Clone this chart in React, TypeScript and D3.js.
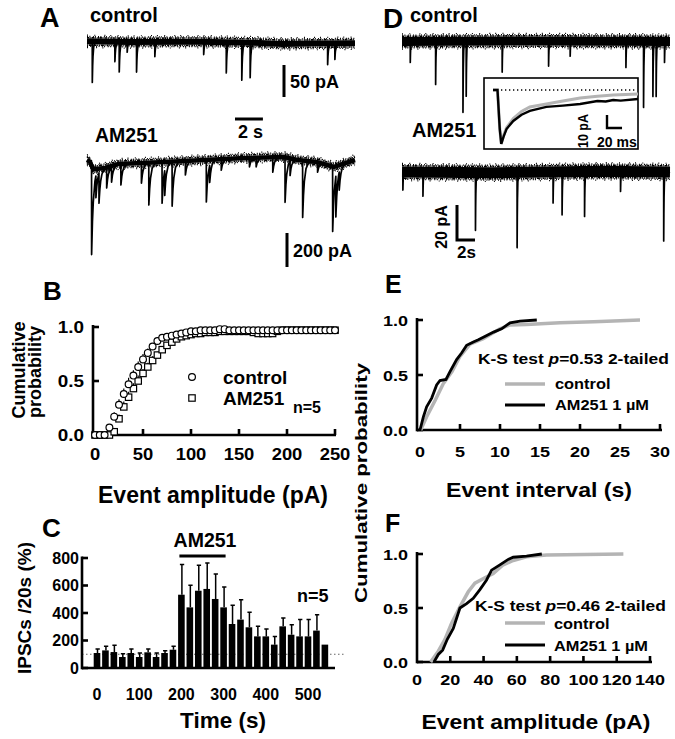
import React from 'react';
import * as d3 from 'd3';

const FONT = '"Liberation Sans", Arial, Helvetica, sans-serif';

// ---------------- Panel A: traces (time s, current pA) ----------------
const aCtrlBase: [number, number][] = [[0, 1], [3, 0], [8, 0.5], [12, -1], [14, -3], [16, -2.5], [19.2, -2]];
const aCtrlEvents: [number, number][] = [
  [0.38, 64], [2.0, 31], [2.31, 47], [2.88, 16], [3.55, 47], [4.86, 23], [8.36, 20],
  [9.98, 48], [11.09, 59], [11.69, 55], [17.24, 33], [17.76, 25],
];
const aAmBase: [number, number][] = [
  [0, 0], [0.2, -10], [0.45, -55], [1.29, -47], [2.2, -24], [3.9, -18], [5.57, -12], [8.4, 0],
  [11.3, 12], [14.1, 18], [15.1, 0], [16.5, -12], [17.7, -41], [19.2, 0],
];
const aAmEvents: [number, number][] = [
  [0.33, 523], [0.64, 129], [0.86, 176], [1.41, 118], [1.76, 88], [2.43, 123], [3.9, 118],
  [4.43, 247], [5.38, 241], [5.57, 147], [6.1, 259], [7.05, 82], [8.55, 247], [8.79, 100],
  [9.62, 65], [11.64, 53], [12.12, 53], [13.31, 88], [14.19, 265], [14.55, 88], [15.45, 335],
  [16.52, 59], [17.6, 382], [17.83, 241], [18.07, 106],
];

// ---------------- Panel D: traces ----------------
const dCtrlBase: [number, number][] = [[0, 0], [15, 0.3], [29.8, 0]];
const dCtrlEvents: [number, number][] = [
  [0.92, 12], [3.74, 24.6], [6.78, 40.6], [7.14, 31.4], [11.14, 17.7], [16.3, 14.3], [18.7, 8.6],
  [24.9, 14.9], [26.86, 37.7], [27.9, 31.4], [28.26, 31.4], [29.19, 12],
];
const dAmBase: [number, number][] = [[0, 0], [10, -0.4], [22, 0.4], [29.8, 0]];
const dAmEvents: [number, number][] = [
  [0.1, 10.3], [2.33, 13.7], [8.17, 33], [12.8, 43], [16.8, 17.7], [17.8, 24.6], [20.3, 25.7],
  [24.3, 11.4], [29.1, 39.4],
];
// inset average IPSCs (ms, pA)
const insetAm: [number, number][] = [
  [0, 0], [6, 0], [9, -30], [11, -41.5], [14, -36], [18, -30], [27, -23.8], [38, -19], [49, -16],
  [60, -14.5], [71, -13], [93, -12], [116, -10.8], [139, -8.5], [150, -8.8], [160, -7.7],
  [170, -8.2], [193, -6.9],
];
const insetCtrl: [number, number][] = [
  [0, 0], [6, 0], [9, -30], [11, -41.5], [14, -35], [18, -29], [27, -22], [38, -16.5], [49, -13],
  [71, -10.8], [93, -8.5], [116, -6.2], [139, -4.8], [160, -3.8], [193, -3],
];

// ---------------- Panel B: cumulative amplitude ----------------
const bAmp = [0, 5, 10, 15, 20, 25, 30, 35, 40, 45, 50, 55, 60, 65, 70, 75, 80, 85, 90, 95, 100,
  105, 110, 115, 120, 125, 130, 135, 140, 145, 150, 155, 160, 165, 170, 175, 180, 185, 190, 195,
  200, 205, 210, 215, 220, 225, 230, 235, 240, 245, 250];
const bCtrl = [0, 0, 0, 0.07, 0.17, 0.28, 0.38, 0.47, 0.55, 0.63, 0.7, 0.76, 0.82, 0.87, 0.9, 0.91,
  0.92, 0.93, 0.94, 0.95, 0.96, 0.96, 0.97, 0.97, 0.97, 0.97, 0.98, 0.98, 0.97, 0.97, 0.97, 0.97,
  0.97, 0.97, 0.97, 0.97, 0.97, 0.97, 0.97, 0.97, 0.97, 0.97, 0.97, 0.97, 0.97, 0.97, 0.97, 0.97,
  0.97, 0.97, 0.97];
const bCtrlErr = [0, 0, 0, 0.02, 0.04, 0.05, 0.05, 0.06, 0.05, 0.05, 0.05, 0.04, 0.03, 0.02, 0.02,
  0.02, 0.01, 0.01, 0.01, 0.01, 0.01, 0.01, 0.01, 0.01, 0, 0, 0, 0, 0, 0, 0, 0, 0, 0, 0, 0, 0, 0,
  0, 0, 0, 0, 0, 0, 0, 0, 0, 0, 0, 0, 0];
const bAm = [0, 0, 0, 0, 0.03, 0.15, 0.26, 0.35, 0.43, 0.5, 0.57, 0.63, 0.69, 0.74, 0.79, 0.83,
  0.86, 0.89, 0.91, 0.92, 0.93, 0.94, 0.94, 0.95, 0.95, 0.95, 0.96, 0.96, 0.96, 0.96, 0.96, 0.96,
  0.96, 0.95, 0.94, 0.94, 0.94, 0.94, 0.96, 0.97, 0.97, 0.97, 0.97, 0.97, 0.97, 0.97, 0.97, 0.97,
  0.97, 0.97, 0.97];
const bAmErr = [0, 0, 0, 0, 0.02, 0.04, 0.05, 0.05, 0.05, 0.05, 0.04, 0.04, 0.04, 0.03, 0.03,
  0.02, 0.02, 0.02, 0.01, 0.01, 0.01, 0.01, 0.01, 0, 0, 0, 0, 0, 0, 0, 0, 0, 0, 0, 0, 0, 0, 0, 0,
  0, 0, 0, 0, 0, 0, 0, 0, 0, 0, 0, 0];
const bXTicks = [0, 50, 100, 150, 200, 250];
const bYTicks = [0, 0.5, 1];

// ---------------- Panel C: IPSCs per 20 s ----------------
const cTime = [0, 20, 40, 60, 80, 100, 120, 140, 160, 180, 200, 220, 240, 260, 280, 300, 320, 340,
  360, 380, 400, 420, 440, 460, 480, 500, 520, 540];
const cMean = [109, 128, 116, 80, 109, 80, 114, 80, 109, 133, 533, 441, 562, 575, 502, 441, 320,
  352, 296, 230, 230, 170, 303, 242, 230, 230, 272, 170];
const cErr = [29, 30, 49, 24, 29, 29, 24, 29, 17, 25, 219, 160, 185, 189, 182, 148, 136, 145, 109,
  73, 54, 60, 61, 73, 122, 122, 116, 0];
const cXTicks = [0, 100, 200, 300, 400, 500];
const cYTicks = [0, 200, 400, 600, 800];

// ---------------- Panel E: cumulative interval ----------------
const eCtrl: [number, number][] = [[0.08, 0], [0.83, 0.12], [1.9, 0.27], [2.9, 0.42], [4.0, 0.53],
  [5.0, 0.67], [6.25, 0.78], [7.9, 0.83], [10, 0.92], [11.25, 0.955], [13.3, 0.96], [17.5, 0.975],
  [21.7, 0.985], [27.5, 1.0]];
const eAm: [number, number][] = [[0, 0], [0.42, 0.12], [0.83, 0.21], [1.46, 0.29], [2.08, 0.41],
  [2.5, 0.45], [3.25, 0.46], [3.75, 0.53], [4.58, 0.64], [5.2, 0.7], [5.83, 0.77], [6.67, 0.8],
  [7.3, 0.82], [8.1, 0.85], [9.2, 0.89], [10.2, 0.92], [11.25, 0.975], [12.5, 0.99], [14.6, 1.0]];
const eXTicks = [0, 5, 10, 15, 20, 25, 30];

// ---------------- Panel F: cumulative amplitude ----------------
const fCtrl: [number, number][] = [[8.2, 0], [12.8, 0.1], [16.8, 0.21], [20.8, 0.36], [25.8, 0.51],
  [30.8, 0.65], [34.8, 0.73], [40.8, 0.78], [45.8, 0.82], [51.8, 0.9], [57.8, 0.94], [65.8, 0.975],
  [77.8, 0.99], [124, 1.0]];
const fAm: [number, number][] = [[10.2, 0], [12.8, 0.07], [15.4, 0.11], [18.2, 0.21], [21.8, 0.31],
  [25.8, 0.5], [29.8, 0.54], [33.8, 0.59], [37.8, 0.67], [41.8, 0.76], [44.8, 0.85], [49.8, 0.9],
  [54.8, 0.95], [57.8, 0.97], [65.8, 0.98], [75, 1.0]];
const fXTicks = [0, 20, 40, 60, 80, 100, 120, 140];
const efYTicks = [0, 0.5, 1];

// ---------------- helpers ----------------
type Sc = d3.ScaleLinear<number, number>;

function T({ x, y, s, sx = 1, anchor = 'start', rot = 0, children, len }: any) {
  return (
    <text
      transform={`translate(${x},${y}) rotate(${rot}) scale(${sx},1)`}
      fontSize={s}
      textAnchor={anchor}
      textLength={len}
      lengthAdjust={len ? 'spacingAndGlyphs' : undefined}
    >
      {children}
    </text>
  );
}

function Trace({ base, events, x, y, tau, band }: {
  base: [number, number][]; events: [number, number][]; x: Sc; y: Sc; tau: number; band: number;
}) {
  const bs = d3.scaleLinear().domain(base.map(d => d[0])).range(base.map(d => d[1])).clamp(true);
  const t0 = base[0][0];
  const t1 = base[base.length - 1][0];
  const times: number[] = base.map(d => d[0]);
  events.forEach(([t]) => {
    times.push(t - 0.004, t, t + tau * 0.5, t + tau, t + tau * 2, t + tau * 3.5);
  });
  const ts = Array.from(new Set(times.filter(t => t >= t0 && t <= t1))).sort((a, b) => a - b);
  const val = (t: number) => {
    let v = bs(t);
    events.forEach(([te, a]) => {
      const dt = t - te;
      if (dt >= 0) v -= a * Math.exp(-dt / tau);
    });
    return v;
  };
  const line = d3.line<[number, number]>().x(d => x(d[0])).y(d => y(d[1]));
  const off = (o: number) => d3.line<[number, number]>().x(d => x(d[0])).y(d => y(d[1]) + o)(base) || '';
  const pts: [number, number][] = ts.map(t => [t, val(t)]);
  const h = band / 2;
  return (
    <g fill="none" stroke="#000">
      <path d={line(base) || ''} strokeWidth={band} strokeLinejoin="round" />
      {/* fuzzy noise edges */}
      <path d={off(-h - 0.7)} strokeWidth={1.6} strokeDasharray="2,0.6,1,0.9,3,0.7,1,1.2,2,0.5" />
      <path d={off(h + 0.7)} strokeWidth={1.6} strokeDasharray="1,0.8,3,0.6,1,1.1,2,0.7,1,0.9" />
      <path d={off(-h - 1.9)} strokeWidth={1.3} strokeDasharray="1,1.4,1,2.5,1,1.0,1,2.1" />
      <path d={off(h + 1.9)} strokeWidth={1.3} strokeDasharray="1,2.2,1,1.1,1,2.8,1,1.5" />
      <path d={off(-h - 3.2)} strokeWidth={1.2} strokeDasharray="1,6.3,1,9.1,1,4.9" />
      <path d={off(h + 3.2)} strokeWidth={1.2} strokeDasharray="1,8.1,1,5.3,1,11.2" />
      <path d={line(pts) || ''} strokeWidth={1.7} strokeLinejoin="round" />
    </g>
  );
}

export default function App() {
  // A
  const xA = d3.scaleLinear().domain([0, 19.2]).range([87, 355]);
  const yA1 = d3.scaleLinear().domain([0, -50]).range([42, 74]);
  const yA2 = d3.scaleLinear().domain([0, -200]).range([160, 194]);
  // D
  const xD = d3.scaleLinear().domain([0, 29.8]).range([402, 670]);
  const yD1 = d3.scaleLinear().domain([0, -20]).range([41.5, 76.5]);
  const yD2 = d3.scaleLinear().domain([0, -20]).range([172, 207]);
  const xI = d3.scaleLinear().domain([0, 193]).range([493, 638]);
  const yI = d3.scaleLinear().domain([0, -10]).range([90, 103]);
  // B
  const xB = d3.scaleLinear().domain([0, 250]).range([95, 335]);
  const yB = d3.scaleLinear().domain([0, 1]).range([435, 327]);
  // C
  const xC = d3.scaleLinear().domain([0, 500]).range([97, 308]);
  const yC = d3.scaleLinear().domain([0, 800]).range([668, 558]);
  // E, F
  const xE = d3.scaleLinear().domain([0, 30]).range([420, 660]);
  const yE = d3.scaleLinear().domain([0, 1]).range([430, 320]);
  const xF = d3.scaleLinear().domain([0, 140]).range([417, 650]);
  const yF = d3.scaleLinear().domain([0, 1]).range([662, 554]);

  const lineE = d3.line<[number, number]>().x(d => xE(d[0])).y(d => yE(d[1]));
  const lineF = d3.line<[number, number]>().x(d => xF(d[0])).y(d => yF(d[1]));
  const lineI = d3.line<[number, number]>().x(d => xI(d[0])).y(d => yI(d[1]));

  const AX = 2.6;
  const gray = '#b4b4b4';

  return (
    <svg width={675} height={739} style={{ position: 'absolute', left: 0, top: 0, background: '#fff' }}
      fontFamily={FONT} fontWeight="bold" fill="#000">
      <rect x={0} y={0} width={675} height={739} fill="#fff" />

      {/* ===== Panel A ===== */}
      <T x={40} y={27} s={27}>A</T>
      <T x={90} y={22} s={20}>control</T>
      <Trace base={aCtrlBase} events={aCtrlEvents} x={xA} y={yA1} tau={0.05} band={6} />
      <line x1={284} x2={284} y1={65} y2={65 + yA1(-50) - yA1(0)} stroke="#000" strokeWidth={3} />
      <T x={290} y={88} s={18}>50 pA</T>
      <line x1={235} x2={235 + xA(2) - xA(0)} y1={119} y2={119} stroke="#000" strokeWidth={3} />
      <T x={238} y={138} s={18}>2 s</T>
      <T x={95} y={142} s={19.5}>AM251</T>
      <Trace base={aAmBase} events={aAmEvents} x={xA} y={yA2} tau={0.12} band={4.5} />
      <line x1={287} x2={287} y1={233} y2={233 + yA2(-200) - yA2(0)} stroke="#000" strokeWidth={3} />
      <T x={293} y={257} s={18}>200 pA</T>

      {/* ===== Panel D ===== */}
      <T x={383} y={28} s={28}>D</T>
      <T x={410} y={22} s={20}>control</T>
      <Trace base={dCtrlBase} events={dCtrlEvents} x={xD} y={yD1} tau={0.04} band={9} />
      <T x={412} y={137} s={20}>AM251</T>
      <Trace base={dAmBase} events={dAmEvents} x={xD} y={yD2} tau={0.04} band={11} />
      <path d={`M457,205V240H${457 + xD(2) - xD(0)}`} fill="none" stroke="#000" strokeWidth={3} />
      <T x={447} y={227} s={16} rot={-90} anchor="middle">20 pA</T>
      <T x={457} y={258} s={17}>2s</T>
      {/* inset */}
      <rect x={484} y={78} width={154} height={71} fill="#fff" stroke="#000" strokeWidth={1.6} />
      <line x1={493} x2={636} y1={yI(0)} y2={yI(0)} stroke="#000" strokeWidth={1.3} strokeDasharray="1.3,2.7" />
      <path d={lineI(insetCtrl) || ''} fill="none" stroke={gray} strokeWidth={3} />
      <path d={lineI(insetAm) || ''} fill="none" stroke="#000" strokeWidth={2.4} />
      <path d={`M607,115V128H${607 + xI(20) - xI(0)}`} fill="none" stroke="#000" strokeWidth={2.4} />
      <T x={588} y={131} s={14} rot={-90} anchor="middle" len={34}>10 pA</T>
      <T x={597} y={147} s={14}>20 ms</T>

      {/* ===== Panel B ===== */}
      <T x={43} y={300} s={26}>B</T>
      <T x={25} y={370} s={18} rot={-90} anchor="middle">Cumulative</T>
      <T x={41} y={372} s={18} rot={-90} anchor="middle">probability</T>
      <line x1={93} x2={93} y1={yB(0) + 1.3} y2={yB(1) - 2} stroke="#000" strokeWidth={AX} />
      <line x1={93} x2={336} y1={yB(0)} y2={yB(0)} stroke="#000" strokeWidth={AX} />
      {bYTicks.map(v => (
        <g key={'by' + v}>
          <line x1={93} x2={99} y1={yB(v)} y2={yB(v)} stroke="#000" strokeWidth={AX} />
          <T x={84} y={yB(v) + 6} s={16} sx={1.18} anchor="end">{v.toFixed(1)}</T>
        </g>
      ))}
      {bXTicks.map(v => (
        <g key={'bx' + v}>
          {v > 0 && <line x1={xB(v)} x2={xB(v)} y1={yB(0)} y2={yB(0) - 6} stroke="#000" strokeWidth={AX} />}
          <T x={xB(v)} y={460} s={16} sx={1.15} anchor="middle">{v}</T>
        </g>
      ))}
      <T x={213} y={503} s={23} anchor="middle">Event amplitude (pA)</T>
      {bAmp.map((a, i) => (
        <g key={'be' + i} stroke="#000" strokeWidth={1.2}>
          {bAmErr[i] > 0 && <line x1={xB(a)} x2={xB(a)} y1={yB(bAm[i])} y2={yB(bAm[i] + bAmErr[i])} />}
          {bCtrlErr[i] > 0 && <line x1={xB(a)} x2={xB(a)} y1={yB(bCtrl[i])} y2={yB(bCtrl[i] + bCtrlErr[i])} />}
        </g>
      ))}
      {bAmp.map((a, i) => (
        <rect key={'bs' + i} x={xB(a) - 3.2} y={yB(bAm[i]) - 3.2} width={6.4} height={6.4} fill="#fff" stroke="#000" strokeWidth={1.2} />
      ))}
      {bAmp.map((a, i) => (
        <circle key={'bc' + i} cx={xB(a)} cy={yB(bCtrl[i])} r={3.4} fill="#fff" stroke="#000" strokeWidth={1.2} />
      ))}
      <circle cx={192} cy={377} r={3.4} fill="#fff" stroke="#000" strokeWidth={1.2} />
      <T x={223} y={384} s={19}>control</T>
      <rect x={188.8} y={394.8} width={6.4} height={6.4} fill="#fff" stroke="#000" strokeWidth={1.2} />
      <T x={223} y={405} s={19}>AM251</T>
      <T x={293} y={413} s={16}>n=5</T>

      {/* ===== Panel C ===== */}
      <T x={42} y={537} s={26}>C</T>
      <T x={31} y={608} s={19} rot={-90} anchor="middle">IPSCs /20s (%)</T>
      <line x1={82} x2={346} y1={yC(100)} y2={yC(100)} stroke="#666" strokeWidth={1} strokeDasharray="1.5,2.5" />
      {cTime.map((t, i) => (
        <g key={'cb' + i}>
          <rect x={xC(t) - 3.3} y={yC(cMean[i])} width={6.6} height={yC(0) - yC(cMean[i])} fill="#000" />
          {cErr[i] > 0 && (
            <path d={`M${xC(t) + 0.5},${yC(cMean[i])}V${yC(cMean[i] + cErr[i])}M${xC(t) - 1.5},${yC(cMean[i] + cErr[i])}H${xC(t) + 2.8}`}
              stroke="#000" strokeWidth={1.5} fill="none" />
          )}
        </g>
      ))}
      <line x1={82} x2={82} y1={yC(0) + 1.3} y2={yC(800) - 1.5} stroke="#000" strokeWidth={AX} />
      <line x1={82} x2={335} y1={yC(0)} y2={yC(0)} stroke="#000" strokeWidth={AX} />
      {cYTicks.map(v => (
        <g key={'cy' + v}>
          <line x1={82} x2={88} y1={yC(v)} y2={yC(v)} stroke="#000" strokeWidth={AX} />
          <T x={79} y={yC(v) + 5.8} s={16} anchor="end">{v}</T>
        </g>
      ))}
      {cXTicks.map(v => (
        <T key={'cx' + v} x={xC(v)} y={700} s={16} anchor="middle">{v}</T>
      ))}
      <T x={223} y={728} s={22.5} anchor="middle">Time (s)</T>
      <line x1={xC(200) - 2} x2={xC(300) + 2} y1={556} y2={556} stroke="#000" strokeWidth={3} />
      <T x={205} y={547} s={19.5} anchor="middle">AM251</T>
      <T x={297} y={602} s={18}>n=5</T>

      {/* ===== Panel E ===== */}
      <T x={385} y={293} s={25}>E</T>
      <T x={367} y={483} s={16} rot={-90} anchor="middle" len={240}>Cumulative probability</T>
      <line x1={417} x2={417} y1={yE(0) + 1.3} y2={yE(1) - 2} stroke="#000" strokeWidth={AX} />
      <line x1={417} x2={662} y1={yE(0)} y2={yE(0)} stroke="#000" strokeWidth={AX} />
      {efYTicks.map(v => (
        <g key={'ey' + v}>
          <line x1={417} x2={423} y1={yE(v)} y2={yE(v)} stroke="#000" strokeWidth={AX} />
          <T x={408} y={yE(v) + 5.5} s={15} sx={1.2} anchor="end">{v.toFixed(1)}</T>
        </g>
      ))}
      {eXTicks.map(v => (
        <g key={'ex' + v}>
          {v > 0 && <line x1={xE(v)} x2={xE(v)} y1={yE(0)} y2={yE(0) - 6} stroke="#000" strokeWidth={AX} />}
          <T x={xE(v)} y={457} s={15} sx={1.2} anchor="middle">{v}</T>
        </g>
      ))}
      <T x={539} y={497} s={21} sx={1.1} anchor="middle">Event interval (s)</T>
      <path d={lineE(eCtrl) || ''} fill="none" stroke={gray} strokeWidth={3.5} />
      <path d={lineE(eAm) || ''} fill="none" stroke="#000" strokeWidth={2.8} />
      <T x={478} y={364} s={14.5} sx={1.2}>K-S test <tspan fontStyle="italic">p</tspan>=0.53 2-tailed</T>
      <line x1={505} x2={545} y1={384} y2={384} stroke={gray} strokeWidth={3.5} />
      <T x={555} y={389} s={14} sx={1.17}>control</T>
      <line x1={505} x2={545} y1={405} y2={405} stroke="#000" strokeWidth={3} />
      <T x={555} y={410} s={14} sx={1.17}>AM251 1 µM</T>

      {/* ===== Panel F ===== */}
      <T x={385} y={532} s={25}>F</T>
      <line x1={417} x2={417} y1={yF(0) + 1.3} y2={yF(1) - 2} stroke="#000" strokeWidth={AX} />
      <line x1={417} x2={652} y1={yF(0)} y2={yF(0)} stroke="#000" strokeWidth={AX} />
      {efYTicks.map(v => (
        <g key={'fy' + v}>
          <line x1={417} x2={423} y1={yF(v)} y2={yF(v)} stroke="#000" strokeWidth={AX} />
          <T x={408} y={yF(v) + 5.5} s={15} sx={1.2} anchor="end">{v.toFixed(1)}</T>
        </g>
      ))}
      {fXTicks.map(v => (
        <g key={'fx' + v}>
          {v > 0 && <line x1={xF(v)} x2={xF(v)} y1={yF(0)} y2={yF(0) - 6} stroke="#000" strokeWidth={AX} />}
          <T x={xF(v)} y={685} s={15} sx={1.2} anchor="middle">{v}</T>
        </g>
      ))}
      <T x={536} y={729} s={21} sx={1.09} anchor="middle">Event amplitude (pA)</T>
      <path d={lineF(fCtrl) || ''} fill="none" stroke={gray} strokeWidth={3.5} />
      <path d={lineF(fAm) || ''} fill="none" stroke="#000" strokeWidth={2.8} />
      <T x={475} y={611} s={14.5} sx={1.2}>K-S test <tspan fontStyle="italic">p</tspan>=0.46 2-tailed</T>
      <line x1={505} x2={545} y1={623} y2={623} stroke={gray} strokeWidth={3.5} />
      <T x={554} y={629} s={14} sx={1.17}>control</T>
      <line x1={505} x2={545} y1={645} y2={645} stroke="#000" strokeWidth={3} />
      <T x={554} y={651} s={14} sx={1.17}>AM251 1 µM</T>
    </svg>
  );
}
